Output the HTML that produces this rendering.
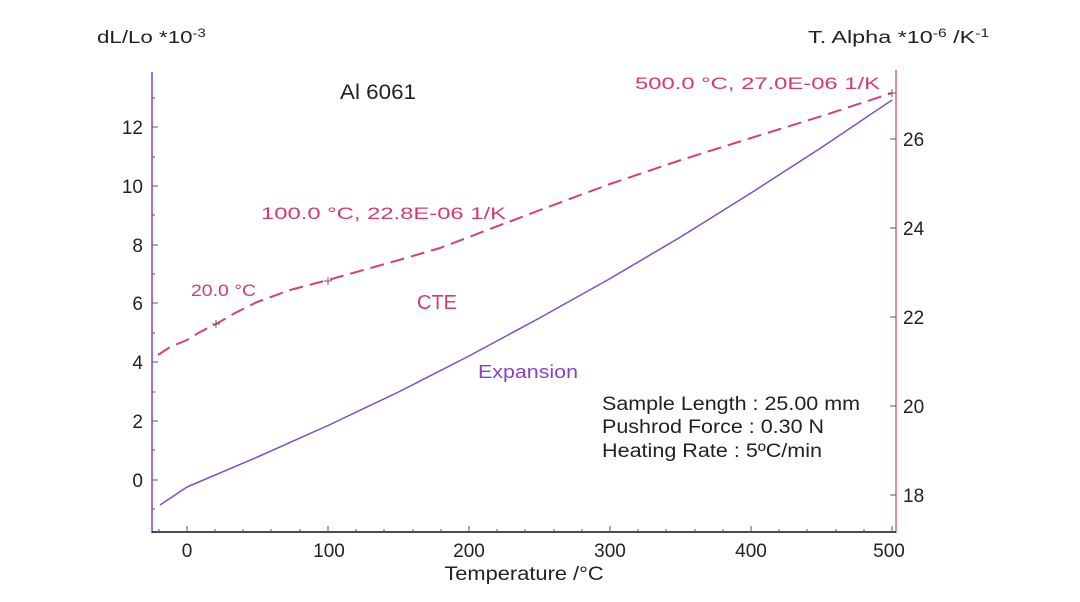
<!DOCTYPE html><html><head><style>body{margin:0;background:#fff}svg{display:block}text{font-family:"Liberation Sans",sans-serif}</style></head><body>
<svg width="1080" height="602" viewBox="0 0 1080 602">
<line x1="152" y1="72" x2="152" y2="533" stroke="#8a3fd0" stroke-width="1.5"/>
<line x1="896" y1="70" x2="896" y2="533" stroke="#e0609a" stroke-width="1.5"/>
<line x1="152" y1="532" x2="896" y2="532" stroke="#111" stroke-width="1.5"/>
<g stroke="#555" stroke-width="1">
<line x1="152" y1="480" x2="158" y2="480"/><line x1="152" y1="421" x2="158" y2="421"/><line x1="152" y1="362" x2="158" y2="362"/><line x1="152" y1="303" x2="158" y2="303"/><line x1="152" y1="245" x2="158" y2="245"/><line x1="152" y1="186" x2="158" y2="186"/><line x1="152" y1="127" x2="158" y2="127"/>
<line x1="152" y1="509" x2="155" y2="509"/><line x1="152" y1="450" x2="155" y2="450"/><line x1="152" y1="392" x2="155" y2="392"/><line x1="152" y1="333" x2="155" y2="333"/><line x1="152" y1="274" x2="155" y2="274"/><line x1="152" y1="215" x2="155" y2="215"/><line x1="152" y1="157" x2="155" y2="157"/><line x1="152" y1="98" x2="155" y2="98"/>
<line x1="890" y1="495" x2="896" y2="495"/><line x1="890" y1="406" x2="896" y2="406"/><line x1="890" y1="317" x2="896" y2="317"/><line x1="890" y1="228" x2="896" y2="228"/><line x1="890" y1="139" x2="896" y2="139"/>
<line x1="187" y1="532" x2="187" y2="526"/><line x1="328" y1="532" x2="328" y2="526"/><line x1="469" y1="532" x2="469" y2="526"/><line x1="610" y1="532" x2="610" y2="526"/><line x1="751" y1="532" x2="751" y2="526"/><line x1="892" y1="532" x2="892" y2="526"/>
<line x1="159" y1="532" x2="159" y2="529"/><line x1="215" y1="532" x2="215" y2="529"/><line x1="243" y1="532" x2="243" y2="529"/><line x1="271" y1="532" x2="271" y2="529"/><line x1="300" y1="532" x2="300" y2="529"/><line x1="356" y1="532" x2="356" y2="529"/><line x1="384" y1="532" x2="384" y2="529"/><line x1="413" y1="532" x2="413" y2="529"/><line x1="441" y1="532" x2="441" y2="529"/><line x1="497" y1="532" x2="497" y2="529"/><line x1="525" y1="532" x2="525" y2="529"/><line x1="554" y1="532" x2="554" y2="529"/><line x1="582" y1="532" x2="582" y2="529"/><line x1="638" y1="532" x2="638" y2="529"/><line x1="666" y1="532" x2="666" y2="529"/><line x1="695" y1="532" x2="695" y2="529"/><line x1="723" y1="532" x2="723" y2="529"/><line x1="779" y1="532" x2="779" y2="529"/><line x1="807" y1="532" x2="807" y2="529"/><line x1="836" y1="532" x2="836" y2="529"/><line x1="864" y1="532" x2="864" y2="529"/>
</g>
<g font-size="19" fill="#222" text-anchor="end">
<text x="143" y="487">0</text><text x="143" y="428">2</text><text x="143" y="369">4</text><text x="143" y="310">6</text><text x="143" y="252">8</text><text x="143" y="193">10</text><text x="143" y="134">12</text></g>
<g font-size="19" fill="#222"><text x="903" y="502">18</text><text x="903" y="413">20</text><text x="903" y="324">22</text><text x="903" y="235">24</text><text x="903" y="146">26</text></g>
<g font-size="19" fill="#222" text-anchor="middle"><text x="187" y="557">0</text><text x="329" y="557">100</text><text x="469" y="557">200</text><text x="610" y="557">300</text><text x="751" y="557">400</text><text x="889" y="557">500</text></g>
<text transform="translate(524,580) scale(1.15,1)" x="0" y="0" font-size="19" fill="#222" text-anchor="middle">Temperature /°C</text>
<text transform="translate(97,43) scale(1.24,1)" x="0" y="0" font-size="18" fill="#222">dL/Lo *10<tspan font-size="12" dy="-6">-3</tspan></text>
<text transform="translate(808,43) scale(1.3,1)" x="0" y="0" font-size="18" fill="#222">T. Alpha *10<tspan font-size="12" dy="-6">-6</tspan><tspan dy="6"> /K</tspan><tspan font-size="12" dy="-6">-1</tspan></text>
<text x="340" y="99" font-size="21" fill="#222" textLength="76" lengthAdjust="spacingAndGlyphs">Al 6061</text>
<polyline points="160,505 187,487 257.5,457 328,425.5 398.5,392 469,356 539.5,318 610,278.6 680.5,237 751,193 821.5,147.5 892,100" fill="none" stroke="#7b4fc8" stroke-width="1.5" stroke-linejoin="round"/>
<polyline points="158,355 170,347 187,340 200,332 216,324 235,313 257,302 290,290 328,280 399,260 440,248 469,237 540,210 610,184 681,160 751,138 822,116 892,93" fill="none" stroke="#d63f7a" stroke-width="2" stroke-dasharray="14,7" stroke-linejoin="round"/>
<g stroke="#666" stroke-width="1"><path d="M212,324h8M216,320v8M324,281h8M328,277v8M888,93h8M892,89v8"/></g>
<g fill="#d63a72" font-size="17"><text x="635" y="89" textLength="245" lengthAdjust="spacingAndGlyphs">500.0 °C, 27.0E-06 1/K</text><text x="261" y="219" textLength="245" lengthAdjust="spacingAndGlyphs">100.0 °C, 22.8E-06 1/K</text><text x="191" y="296" textLength="65" lengthAdjust="spacingAndGlyphs">20.0 °C</text><text x="417" y="309" font-size="20">CTE</text></g>
<text x="478" y="378" font-size="18" fill="#8a3fd0" textLength="100" lengthAdjust="spacingAndGlyphs">Expansion</text>
<g font-size="19" fill="#222"><text x="602" y="410" textLength="258" lengthAdjust="spacingAndGlyphs">Sample Length : 25.00 mm</text><text x="602" y="433" textLength="222" lengthAdjust="spacingAndGlyphs">Pushrod Force : 0.30 N</text><text x="602" y="457" textLength="220" lengthAdjust="spacingAndGlyphs">Heating Rate : 5ºC/min</text></g>
</svg></body></html>
